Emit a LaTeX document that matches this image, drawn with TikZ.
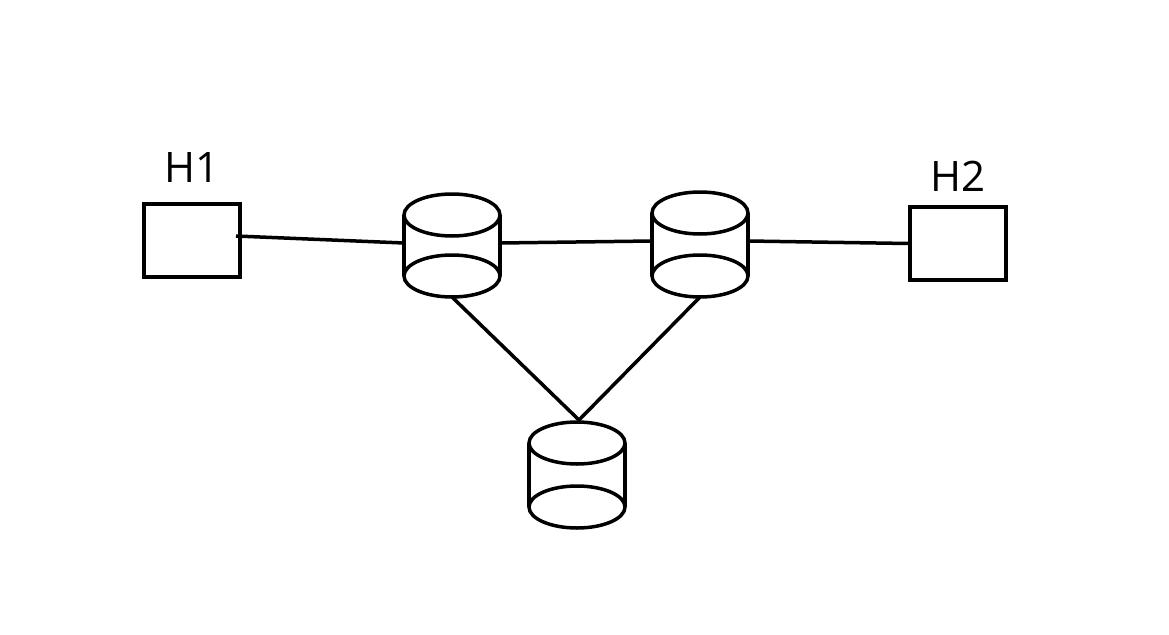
\documentclass[tikz,border=0pt]{standalone}
\usepackage{fontspec}
\setmainfont{Open Sans}
\begin{document}
\begin{tikzpicture}[x=1pt,y=-1pt,line width=3.5pt,
  host/.style={draw,minimum width=96pt,minimum height=73pt,inner sep=0pt},
  lbl/.style={font=\fontsize{42}{48}\selectfont,inner sep=0pt}]
\useasboundingbox (0,0) rectangle (1169,634);
\newcommand{\cylcoords}[4]{% name, cx, topy, bottomy
  \coordinate (#1w) at (#2-48,#3+28);
  \coordinate (#1e) at (#2+48,#3+28);
  \coordinate (#1b) at (#2,#4+21);}
\newcommand{\cyl}[4]{%
  \fill[white] (#2-48,#3) rectangle (#2+48,#4);
  \draw (#2-48,#3) -- (#2-48,#4) (#2+48,#3) -- (#2+48,#4);
  \draw[fill=white] (#2,#3) ellipse (48 and 21);
  \draw[fill=white] (#2,#4) ellipse (48 and 21);}
\cylcoords{a}{452}{215}{276}
\cylcoords{b}{700}{213}{276}
\cylcoords{c}{577}{443}{507}
\node[host] (h1) at (192,240.5) {};
\node[host] (h2) at (958,243.5) {};
\node[lbl] (l1) at (192,168) {H1};
\node[lbl] (l2) at (958,176) {H2};
\coordinate (h1p) at (236,236);
\draw (h1p) -- (aw);
\draw (ae) -- (bw);
\draw (be) -- (h2.west);
\coordinate (m) at (579,420);
\draw (ab) -- (m) -- (bb);
\cyl{a}{452}{215}{276}
\cyl{b}{700}{213}{276}
\cyl{c}{577}{443}{507}
\end{tikzpicture}
\end{document}
